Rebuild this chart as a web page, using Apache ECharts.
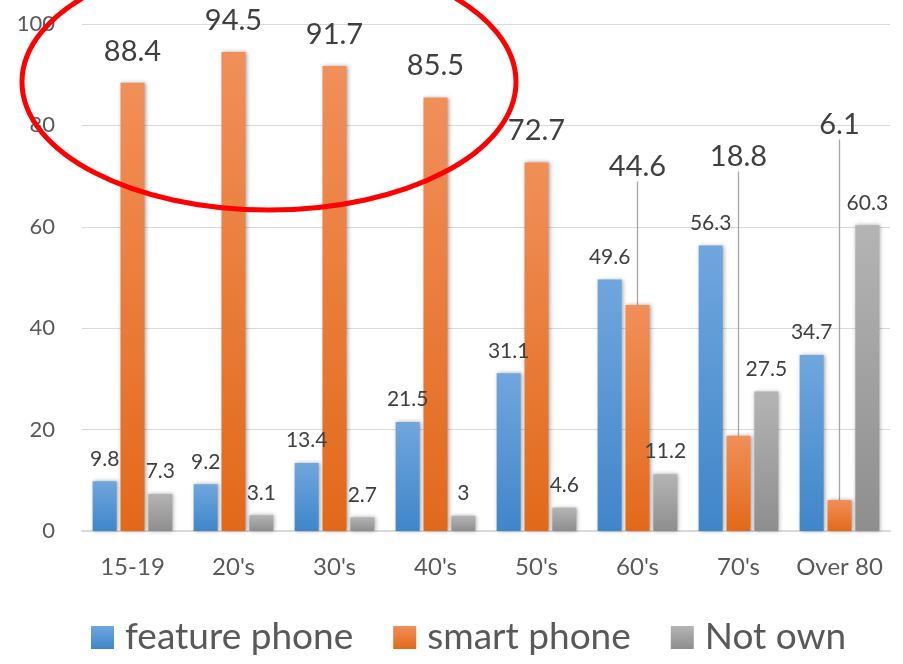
<!DOCTYPE html>
<html>
<head>
<meta charset="utf-8">
<script src="https://cdn.jsdelivr.net/npm/echarts@6/dist/echarts.min.js"></script>
<style>
  html, body { margin: 0; padding: 0; background: #fff; }
  #chart { width: 903px; height: 664px; }
</style>
</head>
<body>
<div id="chart"></div>
<script>
// ---- data ----
var ages = ["15-19", "20's", "30's", "40's", "50's", "60's", "70's", "Over 80"];
var featurePhone = [9.8, 9.2, 13.4, 21.5, 31.1, 49.6, 56.3, 34.7];
var smartPhone = [88.4, 94.5, 91.7, 85.5, 72.7, 44.6, 18.8, 6.1];
var notOwn = [7.3, 3.1, 2.7, 3, 4.6, 11.2, 27.5, 60.3];
var yTicks = [0, 20, 40, 60, 80, 100];

var FONT = 'Lato, "Noto Sans", sans-serif';

function grad(top, bottom) {
  return new echarts.graphic.LinearGradient(0, 0, 0, 1, [
    { offset: 0, color: top },
    { offset: 1, color: bottom }
  ]);
}

var shadow = {
  shadowBlur: 4,
  shadowColor: 'rgba(0,0,0,0.35)',
  shadowOffsetX: 1,
  shadowOffsetY: 0
};

// lifted smart phone labels (pixel centre y) with a leader line
var liftedLabelY = { 5: 167, 6: 157, 7: 125 };

var smartData = smartPhone.map(function (v, i) {
  return { value: v, labelLine: { show: liftedLabelY[i] !== undefined } };
});

var chart = echarts.init(document.getElementById('chart'));

chart.setOption({
  animation: false,
  backgroundColor: '#fff',
  textStyle: { fontFamily: FONT },
  grid: { left: 82, right: 13, top: 24, bottom: 133, containLabel: false },
  legend: {
    left: 86,
    top: 614,
    itemWidth: 23,
    itemHeight: 23,
    itemGap: 40,
    icon: 'rect',
    textStyle: { fontSize: 37, color: '#595959', fontFamily: FONT, padding: [0, 0, 0, 6] },
    data: ['feature phone', 'smart phone', 'Not own']
  },
  xAxis: {
    type: 'category',
    data: ages,
    axisTick: { show: false },
    axisLine: { lineStyle: { color: '#d9d9d9', width: 2 } },
    axisLabel: { interval: 0, fontSize: 24, color: '#595959', margin: 24, fontFamily: FONT }
  },
  yAxis: {
    type: 'value',
    min: yTicks[0],
    max: yTicks[yTicks.length - 1],
    interval: 20,
    axisLine: { show: false },
    axisTick: { show: false },
    splitLine: { lineStyle: { color: '#d9d9d9', width: 1 } },
    axisLabel: { fontSize: 22, color: '#595959', margin: 27, fontFamily: FONT }
  },
  series: [
    {
      name: 'feature phone',
      type: 'bar',
      data: featurePhone,
      barWidth: 24,
      barGap: '16%',
      itemStyle: Object.assign({ color: grad('#70a6de', '#3f86c9') }, shadow),
      label: { show: true, position: 'top', distance: 12, fontSize: 21, color: '#404040', fontFamily: FONT }
    },
    {
      name: 'smart phone',
      type: 'bar',
      data: smartData,
      barWidth: 24,
      barGap: '16%',
      itemStyle: Object.assign({ color: grad('#f18f59', '#e2691a') }, shadow),
      label: { show: true, position: 'top', distance: 17, fontSize: 29, color: '#404040', fontFamily: FONT },
      labelLine: { show: false, smooth: false, lineStyle: { color: '#a6a6a6', width: 1.3 } },
      labelLayout: function (p) {
        var target = liftedLabelY[p.dataIndex];
        if (target === undefined) return {};
        var cy = p.labelRect.y + p.labelRect.height / 2;
        return { dy: target - cy };
      }
    },
    {
      name: 'Not own',
      type: 'bar',
      data: notOwn,
      barWidth: 24,
      barGap: '16%',
      itemStyle: Object.assign({ color: grad('#b4b4b4', '#8e8e8e') }, shadow),
      label: { show: true, position: 'top', distance: 12, fontSize: 21, color: '#404040', fontFamily: FONT }
    }
  ],
  graphic: [
    {
      type: 'ellipse',
      z: 100,
      shape: { cx: 269, cy: 82, rx: 247, ry: 128 },
      style: { fill: null, stroke: '#ff0000', lineWidth: 5 }
    }
  ]
});
</script>
</body>
</html>
